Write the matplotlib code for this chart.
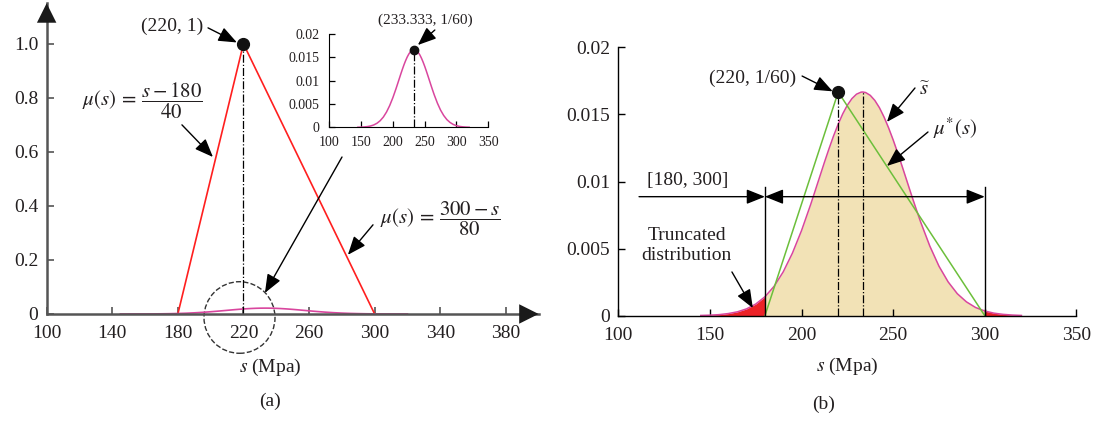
import matplotlib
matplotlib.use('Agg')
import matplotlib.pyplot as plt
import numpy as np
from matplotlib.patches import Ellipse

plt.rcParams['font.family'] = ['Liberation Serif', 'DejaVu Serif']
plt.rcParams['mathtext.fontset'] = 'stix'

# triangular membership function mu(s)
tri_s = [180, 220, 300]
tri_mu = [0, 1, 0]
tri_mu_scaled = [0, 1 / 60, 0]

# fitted normal curve mu*(s)
s_grid = np.array([145, 150, 155, 160, 165, 170, 175, 180, 185, 190, 195,
                   200, 205, 207.5, 210, 212.5, 215, 217.5, 220, 222.5, 225,
                   227.5, 230, 232.5, 233.333, 235, 237.5, 240, 242.5, 245,
                   247.5, 250, 252.5, 255, 257.5, 260, 262.5, 265, 270, 275,
                   280, 285, 290, 295, 300, 305, 310, 315, 320])
pdf_vals = np.array([0.00002, 0.00004, 0.00008, 0.00016, 0.00029, 0.00051,
                     0.00087, 0.00141, 0.00219, 0.00327, 0.00466, 0.00635,
                     0.00830, 0.00934, 0.01039, 0.01144, 0.01245, 0.01341,
                     0.01428, 0.01505, 0.01569, 0.01618, 0.01651, 0.01666,
                     0.01667, 0.01663, 0.01642, 0.01604, 0.01550, 0.01481,
                     0.01400, 0.01310, 0.01212, 0.01109, 0.01004, 0.00899,
                     0.00797, 0.00698, 0.00519, 0.00369, 0.00252, 0.00164,
                     0.00103, 0.00061, 0.00035, 0.00019, 0.00010, 0.00005,
                     0.00002])

peak_tri = (220, 1)
peak_tri_b = (220, 1 / 60)
peak_pdf = (233.333, 1 / 60)
bounds = [180, 300]

xt_a = [100, 140, 180, 220, 260, 300, 340, 380]
yt_a = [0, 0.2, 0.4, 0.6, 0.8, 1.0]
yl_a = ['0', '0.2', '0.4', '0.6', '0.8', '1.0']
xt_b = [100, 150, 200, 250, 300, 350]
yt_b = [0, 0.005, 0.01, 0.015, 0.02]
yl_b = ['0', '0.005', '0.01', '0.015', '0.02']

TXT = '#231f20'
GRAY = '#555555'
MAG = '#d9469e'
RED = '#ff1f1f'
GREEN = '#6cbf3b'
TAN = '#f2e2b6'
TAIL = '#ec2227'
FS = 14


def arrow(ax, tip, tail, **kw):
    ax.annotate('', xy=tip, xytext=tail, annotation_clip=False,
                arrowprops=dict(arrowstyle='-|>,head_length=0.75,head_width=0.3',
                                mutation_scale=15, color='k', lw=1.0,
                                shrinkA=0, shrinkB=0, **kw))


fig = plt.figure(figsize=(10.95, 4.21), dpi=100)

# ---------- panel (a) ----------
ax1 = fig.add_axes([0.0426, 0.2542, 0.4493, 0.738])
ax1.set_xlim(100, 400)
ax1.set_ylim(0, 1.15)
for side in ['top', 'right']:
    ax1.spines[side].set_visible(False)
for side in ['left', 'bottom']:
    ax1.spines[side].set_color(GRAY)
    ax1.spines[side].set_linewidth(1.8)
ax1.set_xticks(xt_a)
ax1.set_yticks(yt_a)
ax1.set_yticklabels(yl_a)
ax1.tick_params(direction='in', length=5, width=1.2, color=GRAY,
                labelsize=FS, labelcolor=TXT, pad=6)
ax1.tick_params(axis='x', pad=8)
# axis arrowheads
for tip, tail in [((400, 0), (385, 0)), ((100, 1.15), (100, 1.08))]:
    ax1.annotate('', xy=tip, xytext=tail, annotation_clip=False,
                 arrowprops=dict(arrowstyle='-|>,head_length=1.0,head_width=0.5',
                                 mutation_scale=14, color='#1a1a1a', lw=0,
                                 shrinkA=0, shrinkB=0))

ax1.plot(tri_s, tri_mu, color=RED, lw=1.2, clip_on=False)
ax1.plot(s_grid, pdf_vals * 1.3, color=MAG, lw=1.2)
ax1.plot([peak_tri[0], peak_tri[0]], [0, peak_tri[1]], color='k', lw=0.9,
         ls='-.')
ax1.plot(*peak_tri, 'o', color='#111111', ms=8.5, clip_on=False, zorder=5)
ax1.add_patch(Ellipse((217.6, -0.013), 43.3, 0.265, fill=False, ls='--',
                      lw=1.0, color='#333333', clip_on=False))

ax1.text(176.4, 1.063, '(220, 1)', fontsize=FS, color=TXT, ha='center',
         va='center')
arrow(ax1, (216.0, 1.005), (198.4, 1.059))
ax1.text(158.1, 0.79, r'$\mu(s)\,=\,\dfrac{s-180}{40}$', fontsize=15,
         color=TXT, ha='center', va='center')
arrow(ax1, (201.4, 0.581), (182.5, 0.700))
ax1.text(340.1, 0.352, r'$\mu(s)\,=\,\dfrac{300-s}{80}$', fontsize=15,
         color=TXT, ha='center', va='center')
arrow(ax1, (283.7, 0.219), (299.0, 0.330))
arrow(ax1, (233.1, 0.078), (280.1, 0.581))

# inset
axi = fig.add_axes([0.3007, 0.6976, 0.1452, 0.2216])
axi.set_xlim(100, 350)
axi.set_ylim(0, 0.02)
for side in ['top', 'right']:
    axi.spines[side].set_visible(False)
axi.set_xticks(xt_b)
axi.set_yticks(yt_b)
axi.set_yticklabels(yl_b)
axi.tick_params(direction='in', length=4, width=0.9, labelsize=10,
                labelcolor=TXT)
axi.tick_params(axis='x', pad=6)
axi.tick_params(axis='y', pad=7)
axi.plot(s_grid, pdf_vals, color=MAG, lw=1.1)
axi.plot([peak_pdf[0], peak_pdf[0]], [0, peak_pdf[1]], color='k', lw=0.9,
         ls='-.')
axi.plot(*peak_pdf, 'o', color='#111111', ms=6, clip_on=False, zorder=5)
axi.text(250.3, 0.0230, '(233.333, 1/60)', fontsize=11, color=TXT,
         ha='center', va='center', clip_on=False)
arrow(axi, (239.3, 0.01764), (266.0, 0.02086))
axi.patch.set_alpha(0)

fig.text(270 / 1095, 1 - 367 / 421, r'$s$ (Mpa)', fontsize=FS, color=TXT,
         ha='center', va='center')
fig.text(270 / 1095, 1 - 401 / 421, '(a)', fontsize=FS, color=TXT,
         ha='center', va='center')

# ---------- panel (b) ----------
ax2 = fig.add_axes([0.5647, 0.2501, 0.4183, 0.6375])
ax2.set_xlim(100, 350)
ax2.set_ylim(0, 0.02)
for side in ['top', 'right']:
    ax2.spines[side].set_visible(False)
for side in ['left', 'bottom']:
    ax2.spines[side].set_linewidth(1.0)
ax2.set_xticks(xt_b)
ax2.set_yticks(yt_b)
ax2.set_yticklabels(yl_b)
ax2.tick_params(direction='in', length=5, width=1.0, labelsize=FS,
                labelcolor=TXT, pad=6)
ax2.tick_params(axis='x', pad=8)

inside = (s_grid >= bounds[0]) & (s_grid <= bounds[1])
ax2.fill_between(s_grid, pdf_vals, where=inside, color=TAN, lw=0)
ax2.fill_between(s_grid, pdf_vals, where=s_grid <= bounds[0], color=TAIL,
                 lw=0)
ax2.fill_between(s_grid, pdf_vals, where=s_grid >= bounds[1], color=TAIL,
                 lw=0)
ax2.plot(s_grid, pdf_vals, color=MAG, lw=1.1)
ax2.plot(tri_s, tri_mu_scaled, color=GREEN, lw=1.1)
ax2.plot([peak_tri_b[0], peak_tri_b[0]], [0, peak_tri_b[1]], color='k',
         lw=0.9, ls='-.')
ax2.plot([peak_pdf[0], peak_pdf[0]], [0, peak_pdf[1]], color='k', lw=0.9,
         ls='-.')
ax2.plot(*peak_tri_b, 'o', color='#111111', ms=8.5, zorder=5)
for b in bounds:
    ax2.plot([b, b], [0, 0.0096], color='k', lw=1.0)

ax2.text(173.5, 0.01771, '(220, 1/60)', fontsize=FS, color=TXT,
         ha='center', va='center')
arrow(ax2, (217.0, 0.01672), (200.3, 0.01786))
ax2.text(267.0, 0.01680, r'$\widetilde{s}$', fontsize=15, color=TXT,
         ha='center', va='center')
arrow(ax2, (246.6, 0.01444), (261.9, 0.01697))
ax2.text(283.5, 0.01399, r'$\mu^{*}(s)$', fontsize=15, color=TXT,
         ha='center', va='center')
arrow(ax2, (246.6, 0.01116), (269.0, 0.01369))
ax2.text(138.0, 0.01011, '[180, 300]', fontsize=FS, color=TXT, ha='center',
         va='center')
arrow(ax2, (180, 0.00887), (111.3, 0.00887))
ax2.annotate('', xy=(300, 0.00887), xytext=(180, 0.00887),
             arrowprops=dict(arrowstyle='<|-|>,head_length=0.75,head_width=0.3',
                             mutation_scale=15, color='k', lw=1.0,
                             shrinkA=0, shrinkB=0))
ax2.text(137.3, 0.00525, 'Truncated\ndistribution', fontsize=FS, color=TXT,
         ha='center', va='center', linespacing=1.25)
arrow(ax2, (173.4, 0.00057), (162.0, 0.00326))

fig.text(847 / 1095, 1 - 366 / 421, r'$s$ (Mpa)', fontsize=FS, color=TXT,
         ha='center', va='center')
fig.text(824 / 1095, 1 - 404 / 421, '(b)', fontsize=FS, color=TXT,
         ha='center', va='center')

fig.savefig('out.png', dpi=100)
